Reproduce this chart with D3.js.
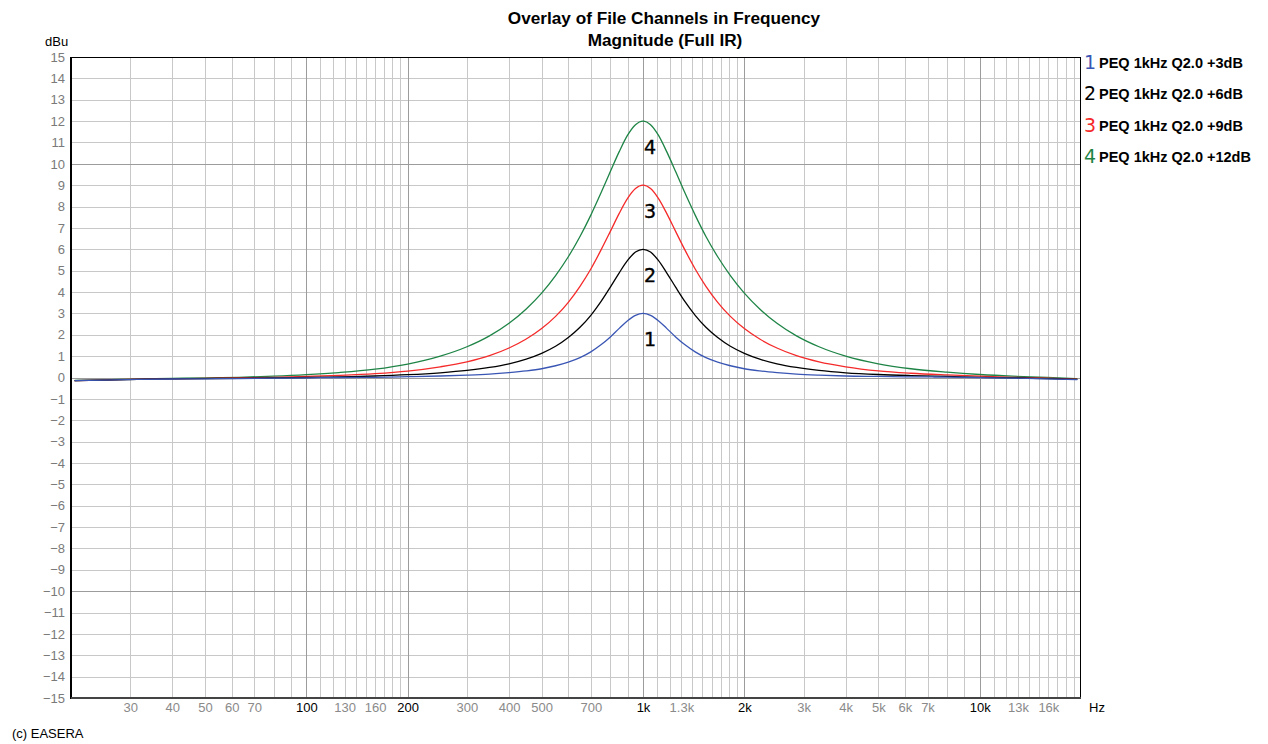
<!DOCTYPE html>
<html>
<head>
<meta charset="utf-8">
<script src="https://cdn.jsdelivr.net/npm/d3@7"></script>
<style>
  html, body { margin: 0; padding: 0; background: #fff; }
  svg { display: block; }
</style>
</head>
<body>
<svg id="chart" width="1268" height="744"></svg>
<script>
// ---------------- data ----------------
const freqs = [20.5, 25, 31.5, 40, 50, 63, 80, 100, 125, 160, 200, 250, 300, 350, 400, 450, 500, 550, 600, 650, 700, 750, 800, 850, 900, 950, 1000,
  1053, 1111, 1176, 1250, 1333, 1429, 1538, 1667, 1818, 2000, 2222, 2500, 2857, 3333, 4000, 5000, 6250, 8000, 10000, 12500, 15870, 19500];

const peq3 = [-0.15,-0.12,-0.09,-0.07,-0.06,-0.05,-0.03,-0.02,0.00,0.01,0.04,0.07,0.11,0.16,0.23,0.31,0.41,0.55,0.72,0.93,1.20,1.53,1.90,2.30,2.66,2.91,3.00,
  2.91,2.66,2.30,1.90,1.53,1.20,0.93,0.72,0.55,0.41,0.31,0.23,0.16,0.11,0.07,0.05,0.03,0.02,-0.01,-0.03,-0.06,-0.10];
const peq6 = [-0.15,-0.12,-0.09,-0.06,-0.05,-0.04,-0.02,0.00,0.03,0.07,0.13,0.22,0.33,0.47,0.64,0.86,1.13,1.46,1.87,2.35,2.91,3.55,4.23,4.90,5.48,5.87,6.00,
  5.87,5.48,4.90,4.23,3.55,2.91,2.35,1.87,1.46,1.13,0.86,0.64,0.47,0.33,0.22,0.14,0.09,0.05,0.01,-0.02,-0.05,-0.09];
const peq9 = [-0.15,-0.12,-0.08,-0.06,-0.04,-0.02,0.01,0.05,0.10,0.18,0.30,0.50,0.73,1.02,1.38,1.80,2.29,2.86,3.52,4.27,5.08,5.96,6.84,7.68,8.38,8.84,9.00,
  8.84,8.38,7.68,6.84,5.96,5.08,4.27,3.52,2.86,2.29,1.80,1.38,1.02,0.73,0.50,0.31,0.20,0.12,0.06,0.01,-0.03,-0.08];
const peq12 = [-0.14,-0.11,-0.07,-0.04,-0.02,0.01,0.06,0.13,0.23,0.39,0.63,1.00,1.44,1.95,2.54,3.21,3.95,4.77,5.65,6.60,7.60,8.63,9.64,10.57,11.34,11.83,12.00,
  11.83,11.34,10.57,9.64,8.63,7.60,6.60,5.65,4.77,3.95,3.21,2.54,1.95,1.44,1.00,0.64,0.41,0.25,0.14,0.06,0.00,-0.06];

const seriesNames = ["PEQ 1kHz Q2.0 +3dB", "PEQ 1kHz Q2.0 +6dB", "PEQ 1kHz Q2.0 +9dB", "PEQ 1kHz Q2.0 +12dB"];
const seriesIds = ["1", "2", "3", "4"];
const seriesValues = [peq3, peq6, peq9, peq12];
const seriesColors = ["#3a56b4", "#000000", "#f52a2a", "#1e8446"];

const minorGridFreqs = [30,40,50,60,70,80,90,110,120,130,140,150,160,170,180,190,300,400,500,600,700,800,900,
  1100,1200,1300,1400,1500,1600,1700,1800,1900,3000,4000,5000,6000,7000,8000,9000,
  11000,12000,13000,14000,15000,16000,17000,18000,19000];
const majorGridFreqs = [100, 200, 1000, 2000, 10000];
const xTickFreqs = [30,40,50,60,70,100,130,160,200,300,400,500,700,1000,1300,2000,3000,4000,5000,6000,7000,10000,13000,16000];
const xTickBold = [100, 200, 1000, 2000, 10000];
const yTicks = d3.range(-15, 16, 1);
const yMajor = [-10, 0, 10];

// ---------------- layout ----------------
const L = 71, R = 1081, T = 57, B = 698;
const svg = d3.select("#chart");
const x = d3.scaleLog().domain([20, 20000]).range([L, R]);
const y = d3.scaleLinear().domain([-15, 15]).range([B, T]);
const FONT = "'Liberation Sans', Arial, sans-serif";

function vgrid(vals, color) {
  const g = svg.append("g").attr("transform", `translate(0,${B})`)
    .call(d3.axisBottom(x).tickValues(vals).tickSize(-(B - T)).tickFormat(""));
  g.select(".domain").remove();
  g.selectAll("line").attr("stroke", color).attr("shape-rendering", "crispEdges");
}
function hgrid(vals, color) {
  const g = svg.append("g").attr("transform", `translate(${L},0)`)
    .call(d3.axisLeft(y).tickValues(vals).tickSize(-(R - L)).tickFormat(""));
  g.select(".domain").remove();
  g.selectAll("line").attr("stroke", color).attr("shape-rendering", "crispEdges");
}
vgrid(minorGridFreqs, "#c8c8c8");
hgrid(yTicks.filter(v => !yMajor.includes(v) && v !== 15 && v !== -15), "#c8c8c8");
vgrid(majorGridFreqs, "#9c9c9c");
hgrid(yMajor, "#9c9c9c");

// frame
svg.append("rect").attr("x", L + 0.5).attr("y", T + 0.5).attr("width", R - L - 1).attr("height", B - T - 1)
  .attr("fill", "none").attr("stroke", "#000").attr("stroke-width", 1).attr("shape-rendering", "crispEdges");
svg.append("line").attr("x1", L).attr("x2", L).attr("y1", T).attr("y2", B + 1)
  .attr("stroke", "#000").attr("stroke-width", 2).attr("shape-rendering", "crispEdges");
svg.append("line").attr("x1", L).attr("x2", R).attr("y1", B).attr("y2", B)
  .attr("stroke", "#444").attr("stroke-width", 2).attr("shape-rendering", "crispEdges");

// x tick labels
const fmtF = f => f >= 1000 ? (f / 1000) + "k" : String(f);
const xa = svg.append("g").attr("transform", `translate(0,${B})`)
  .call(d3.axisBottom(x).tickValues(xTickFreqs).tickSize(0).tickPadding(5).tickFormat(fmtF));
xa.select(".domain").remove();
xa.selectAll("text").attr("font-family", FONT).attr("font-size", 13)
  .attr("fill", d => xTickBold.includes(d) ? "#000" : "#8a8a8a");

// y tick labels
const ya = svg.append("g").attr("transform", `translate(${L},0)`)
  .call(d3.axisLeft(y).tickValues(yTicks).tickSize(0).tickPadding(6).tickFormat(d3.format("d")));
ya.select(".domain").remove();
ya.selectAll("text").attr("font-family", FONT).attr("font-size", 13).attr("fill", "#7a7a7a");

// unit labels
svg.append("text").attr("x", 45).attr("y", 46).text("dBu")
  .attr("font-family", FONT).attr("font-size", 13).attr("fill", "#000");
svg.append("text").attr("x", 1089).attr("y", 712).text("Hz")
  .attr("font-family", FONT).attr("font-size", 13).attr("fill", "#000");
svg.append("text").attr("x", 12).attr("y", 738).text("(c) EASERA")
  .attr("font-family", FONT).attr("font-size", 13).attr("fill", "#000");

// titles
svg.append("text").attr("x", 664).attr("y", 24).attr("text-anchor", "middle")
  .text("Overlay of File Channels in Frequency")
  .attr("font-family", FONT).attr("font-weight", "bold").attr("font-size", 17.2).attr("fill", "#000");
svg.append("text").attr("x", 665).attr("y", 46).attr("text-anchor", "middle")
  .text("Magnitude (Full IR)")
  .attr("font-family", FONT).attr("font-weight", "bold").attr("font-size", 17.2).attr("fill", "#000");

// curves
const line = d3.line().x(d => x(d[0])).y(d => y(d[1])).curve(d3.curveMonotoneX);
svg.append("defs").append("clipPath").attr("id", "plotclip")
  .append("rect").attr("x", L).attr("y", T).attr("width", R - L).attr("height", B - T);
const cg = svg.append("g").attr("clip-path", "url(#plotclip)");
[3, 2, 1, 0].forEach(i => {
  cg.append("path")
    .datum(freqs.map((f, j) => [f, seriesValues[i][j]]))
    .attr("d", line)
    .attr("fill", "none")
    .attr("stroke", seriesColors[i])
    .attr("stroke-width", 1.3);
});

// curve number labels near the peaks
seriesValues.forEach((vals, i) => {
  const peak = d3.max(vals);
  const fPeak = freqs[vals.indexOf(peak)];
  svg.append("text").attr("x", x(fPeak) + 7).attr("y", y(peak) + 33)
    .attr("text-anchor", "middle").text(seriesIds[i])
    .attr("font-family", "'DejaVu Sans', sans-serif").attr("font-size", 19)
    .attr("stroke", "#000").attr("stroke-width", 0.4).attr("fill", "#000");
});

// legend
const legY = [68, 99, 131, 162];
seriesNames.forEach((name, i) => {
  svg.append("text").attr("x", 1084).attr("y", legY[i] + 1).text(seriesIds[i])
    .attr("font-family", "'DejaVu Sans', sans-serif").attr("font-size", 19).attr("fill", seriesColors[i]);
  svg.append("text").attr("x", 1099).attr("y", legY[i]).text(name)
    .attr("font-family", FONT).attr("font-weight", "bold").attr("font-size", 14.5).attr("fill", "#000");
});
</script>
</body>
</html>
